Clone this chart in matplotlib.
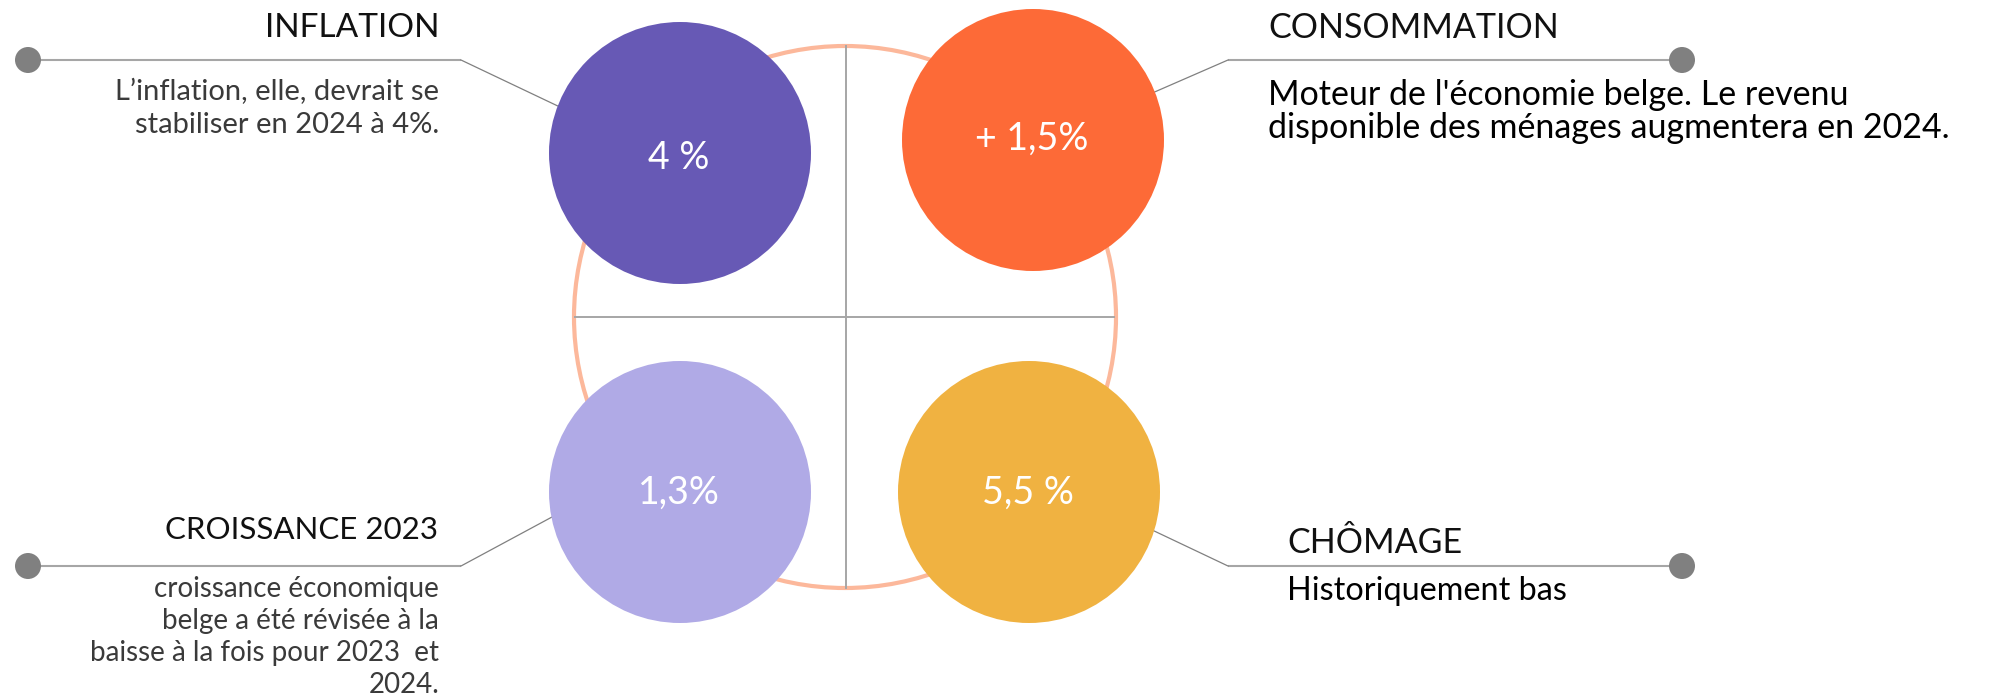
import matplotlib
matplotlib.use("Agg")
import matplotlib.pyplot as plt
from matplotlib.patches import Circle

# ---- data ----
values = ["4 %", "+ 1,5%", "1,3%", "5,5 %"]
titles = ["INFLATION", "CONSOMMATION", "CROISSANCE 2023", "CHÔMAGE"]
descriptions = [
    ["L’inflation, elle, devrait se", "stabiliser en 2024 à 4%."],
    ["Moteur de l'économie belge. Le revenu", "disponible des ménages augmentera en 2024."],
    ["croissance économique", "belge a été révisée à la", "baisse à la fois pour 2023  et", "2024."],
    ["Historiquement bas"],
]
colors = ["#6759B5", "#FD6A37", "#B0AAE6", "#F0B241"]

W, H = 2000, 698
fig = plt.figure(figsize=(W / 100, H / 100), dpi=100)
ax = fig.add_axes([0, 0, 1, 1])
ax.set_xlim(0, W)
ax.set_ylim(H, 0)
ax.axis("off")

FONT = "Lato"

# big ring and crosshair
ax.add_patch(Circle((845, 317), 271, fill=False, edgecolor="#FCB89B", lw=3.0, zorder=1))
ax.plot([846, 846], [46, 588], color="#A6A6A6", lw=1.4, zorder=1)
ax.plot([575, 1114], [317, 317], color="#A6A6A6", lw=1.4, zorder=1)

# circle layout
centers = [(680, 153), (1033, 140), (680, 492), (1029, 492)]
radius = 131
label_y = [158, 139, 493, 493]
for (cx, cy), col, val, ly in zip(centers, colors, values, label_y):
    ax.add_patch(Circle((cx, cy), radius, facecolor=col, edgecolor="none", zorder=3))
    ax.text(cx - 1, ly, val, color="white", fontsize=27, family=FONT,
            ha="center", va="center", zorder=4)

# callouts: (line y, side, diagonal end)
callouts = [
    (60, "left", (562, 108)),
    (60, "right", (1150, 94)),
    (566, "left", (552, 517)),
    (566, "right", (1150, 529)),
]
for (ly, side, end) in callouts:
    if side == "left":
        x0, x1 = 28, 461
        ax.plot([x0, x1], [ly, ly], color="#A6A6A6", lw=1.5, zorder=2, solid_capstyle="butt")
        ax.plot([x1, end[0]], [ly, end[1]], color="#808080", lw=0.9, zorder=2)
        ax.add_patch(Circle((x0, ly), 13, facecolor="#808080", edgecolor="none", zorder=2))
    else:
        x0, x1 = 1228, 1682
        ax.plot([x0, x1], [ly, ly], color="#A6A6A6", lw=1.5, zorder=2, solid_capstyle="butt")
        ax.plot([x0, end[0]], [ly, end[1]], color="#808080", lw=0.9, zorder=2)
        ax.add_patch(Circle((x1, ly), 13, facecolor="#808080", edgecolor="none", zorder=2))

# titles
title_pos = [(439, 37, "right", 24), (1268, 38, "left", 24.5),
             (438, 539, "right", 22.5), (1287, 553, "left", 24.5)]
for t, (x, y, ha, fs) in zip(titles, title_pos):
    ax.text(x, y, t, fontsize=fs, family=FONT, color="#111111",
            ha=ha, va="baseline")

# descriptions
desc_pos = [(439, 100, 33, "right", "#3A3A3A", 21),
            (1268, 105, 33, "left", "#000000", 24.5),
            (439, 597, 32, "right", "#3A3A3A", 20),
            (1287, 600, 33, "left", "#000000", 23.3)]
for lines, (x, y0, dy, ha, c, fs) in zip(descriptions, desc_pos):
    for i, line in enumerate(lines):
        ax.text(x, y0 + i * dy, line, fontsize=fs, family=FONT, color=c,
                ha=ha, va="baseline")

fig.savefig("out.png", dpi=100, facecolor="white")
